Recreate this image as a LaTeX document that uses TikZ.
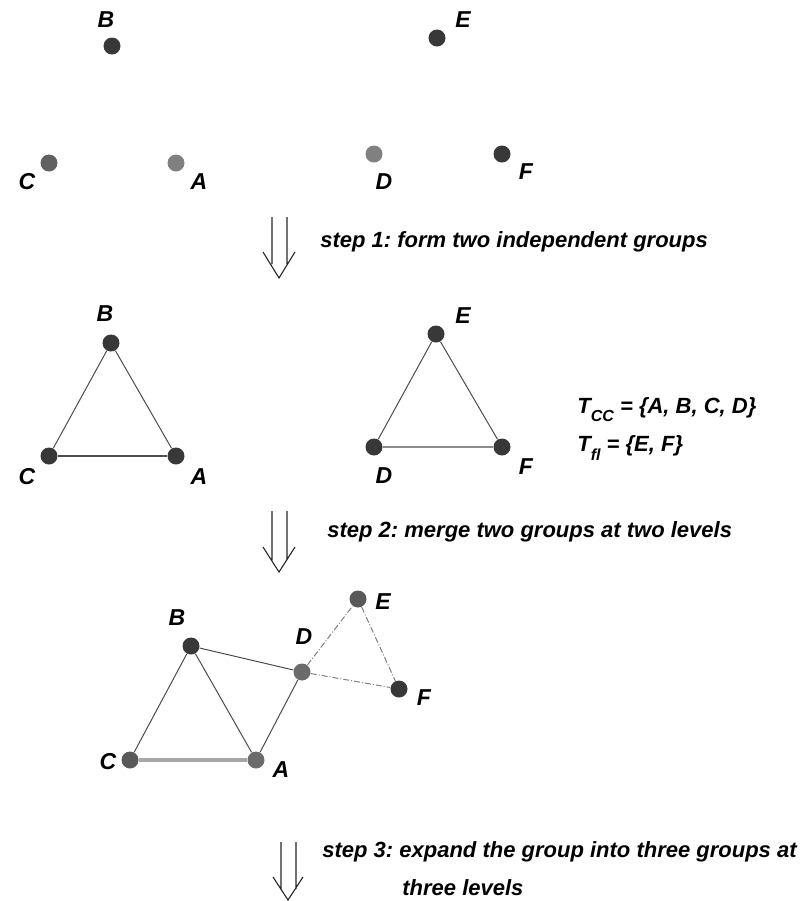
\documentclass[tikz,border=0pt]{standalone}
\usepackage{fontspec}
\setmainfont{Liberation Sans}
\frenchspacing
\usetikzlibrary{positioning}

\begin{document}
\begin{tikzpicture}[
    x=0.5pt, y=-0.5pt,
    vertex/.style={circle, fill=#1, minimum size=8.5pt, inner sep=0pt},
    vertex/.default={black!78},
    lbl/.style={font=\fontsize{11.5}{13}\selectfont\bfseries\itshape, inner sep=0pt},
    steptext/.style={font=\fontsize{11}{13}\selectfont\bfseries\itshape, inner sep=0pt, anchor=west},
    edge/.style={draw=black!70, line width=0.5pt},
    heavy/.style={draw=black!35, line width=1.8pt},
    faint/.style={draw=black!50, line width=0.5pt, dash pattern=on 3pt off 1pt on 0.5pt off 1pt},
    bigarrow/.style={draw=black!85, line width=0.55pt}
]
\useasboundingbox (0,0) rectangle (807,901);

% initial nodes
\node (B1) [vertex] at (112,46) {};
\node (C1) [vertex=black!62] at (49,163) {};
\node (A1) [vertex=black!50] at (176,163) {};
\node (E1) [vertex] at (437,38) {};
\node (D1) [vertex=black!50] at (374,154) {};
\node (F1) [vertex] at (502,154) {};
\node (lB1) [lbl] at (106,20) {B};
\node (lC1) [lbl] at (27,182) {C};
\node (lA1) [lbl] at (199,182) {A};
\node (lE1) [lbl] at (463,20) {E};
\node (lD1) [lbl] at (384,182) {D};
\node (lF1) [lbl] at (526,172) {F};

\draw [bigarrow] (272,217) -- (272,264) (287,217) -- (287,264)
    (263,252) -- (279,278) -- (295,252);
\node (s1) [steptext] at (320,242) {step 1: form two independent groups};

% two groups
\node (B2) [vertex] at (111,343) {};
\node (C2) [vertex] at (49,456) {};
\node (A2) [vertex] at (176,456) {};
\node (E2) [vertex] at (436,334) {};
\node (D2) [vertex] at (374,447) {};
\node (F2) [vertex] at (502,447) {};
\node (lB2) [lbl] at (105,314) {B};
\node (lC2) [lbl] at (27,477) {C};
\node (lA2) [lbl] at (199,477) {A};
\node (lE2) [lbl] at (463,316) {E};
\node (lD2) [lbl] at (384,476) {D};
\node (lF2) [lbl] at (526,467) {F};

\draw [edge] (B2) -- (C2);
\draw [edge] (B2) -- (A2);
\draw [edge, line width=0.8pt] (C2) -- (A2);
\draw [edge] (E2) -- (D2);
\draw [edge] (E2) -- (F2);
\draw [heavy, draw=black!45, line width=1.2pt] (D2) -- (F2);

\node (tcc) [steptext] at (577,410) {T\raisebox{-0.7ex}{\fontsize{8}{9}\selectfont CC} = \{A, B, C, D\}};
\node (tfl) [steptext] at (577,448) {T\raisebox{-0.7ex}{\fontsize{8}{9}\selectfont fl} = \{E, F\}};

\draw [bigarrow] (272,511) -- (272,560) (287,511) -- (287,560)
    (263,547) -- (279,572) -- (295,547);
\node (s2) [steptext] at (327,532) {step 2: merge two groups at two levels};

% merged groups
\node (B3) [vertex] at (191,646) {};
\node (C3) [vertex=black!65] at (130,760) {};
\node (A3) [vertex=black!58] at (256,760) {};
\node (D3) [vertex=black!58] at (302,672) {};
\node (E3) [vertex=black!65] at (358,599) {};
\node (F3) [vertex] at (399,689) {};
\node (lB3) [lbl] at (177,618) {B};
\node (lC3) [lbl] at (108,762) {C};
\node (lA3) [lbl] at (281,770) {A};
\node (lD3) [lbl] at (304,637) {D};
\node (lE3) [lbl] at (383,602) {E};
\node (lF3) [lbl] at (424,698) {F};

\draw [edge] (B3) -- (C3);
\draw [edge] (B3) -- (A3);
\draw [edge] (B3) -- (D3);
\draw [edge] (D3) -- (A3);
\draw [heavy] (C3) -- (A3);
\draw [faint] (D3) -- (E3);
\draw [faint] (E3) -- (F3);
\draw [faint] (D3) -- (F3);

\draw [bigarrow] (281,842) -- (281,889) (296,842) -- (296,889)
    (273,877) -- (288,900) -- (303,877);
\node (s3) [steptext] at (322,852) {step 3: expand the group into three groups at};
\node (s3b) [steptext] at (402,888) {three levels};

\end{tikzpicture}
\end{document}
